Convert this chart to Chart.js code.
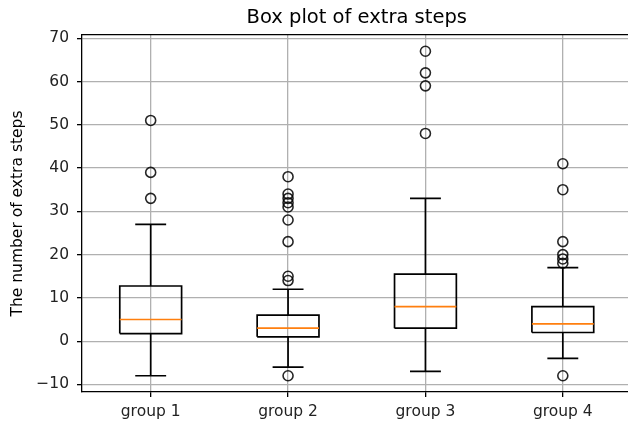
<!DOCTYPE html>
<html>
<head>
<meta charset="utf-8">
<script src="https://cdn.jsdelivr.net/npm/chart.js@4/dist/chart.umd.min.js"></script>
<style>
  html, body { margin: 0; padding: 0; background: #fff; overflow: hidden; }
  #wrap { position: relative; width: 640px; height: 425px; }
</style>
</head>
<body>
<div id="wrap"><canvas id="c"></canvas></div>
<script>
// Summary statistics for each group of extra steps
const groups = ['group 1', 'group 2', 'group 3', 'group 4'];
const q1 = [1.75, 1, 3, 2];
const medians = [5, 3, 8, 4];
const q3 = [12.75, 6, 15.5, 8];
const whiskerLow = [-8, -6, -7, -4];
const whiskerHigh = [27, 12, 33, 17];
const outliers = [
  [33, 39, 51],
  [-8, 14, 15, 23, 28, 31, 32, 33, 34, 38],
  [48, 59, 62, 67],
  [-8, 18, 19, 20, 23, 35, 41]
];
const yTicks = [-10, 0, 10, 20, 30, 40, 50, 60, 70];

const BOX_HALF = 0.225;   // half of the box width, in category units
const CAP_HALF = 0.1125;  // half of the whisker cap width
const gap = (x) => ({ x: x, y: null });

const boxPts = [], medianPts = [], whiskerPts = [], capPts = [], outlierPts = [];
groups.forEach((g, i) => {
  const x = i + 1;
  boxPts.push(
    { x: x - BOX_HALF, y: q1[i] }, { x: x + BOX_HALF, y: q1[i] },
    { x: x + BOX_HALF, y: q3[i] }, { x: x - BOX_HALF, y: q3[i] },
    { x: x - BOX_HALF, y: q1[i] }, gap(x)
  );
  medianPts.push({ x: x - BOX_HALF, y: medians[i] }, { x: x + BOX_HALF, y: medians[i] }, gap(x));
  whiskerPts.push(
    { x: x, y: q1[i] }, { x: x, y: whiskerLow[i] }, gap(x),
    { x: x, y: q3[i] }, { x: x, y: whiskerHigh[i] }, gap(x)
  );
  capPts.push(
    { x: x - CAP_HALF, y: whiskerLow[i] }, { x: x + CAP_HALF, y: whiskerLow[i] }, gap(x),
    { x: x - CAP_HALF, y: whiskerHigh[i] }, { x: x + CAP_HALF, y: whiskerHigh[i] }, gap(x)
  );
  outliers[i].forEach(v => outlierPts.push({ x: x, y: v }));
});

const FONT = 'DejaVu Sans';
const lineSet = (data, color, order) => ({
  data: data, showLine: true, spanGaps: false, tension: 0,
  borderColor: color, borderWidth: 1.7, pointRadius: 0, pointHoverRadius: 0,
  fill: false, order: order, borderCapStyle: 'butt', borderJoinStyle: 'miter'
});

new Chart(document.getElementById('c'), {
  type: 'scatter',
  data: {
    datasets: [
      lineSet(medianPts, '#ff7f0e', 0),
      lineSet(boxPts, '#000000', 1),
      lineSet(whiskerPts, '#000000', 2),
      lineSet(capPts, '#000000', 3),
      {
        data: outlierPts, showLine: false, pointStyle: 'circle',
        pointRadius: 5, pointHoverRadius: 5, borderWidth: 1.6,
        borderColor: 'rgba(0,0,0,0.85)', backgroundColor: 'rgba(0,0,0,0)', order: 4
      }
    ]
  },
  options: {
    responsive: true,
    maintainAspectRatio: false,
    animation: false,
    events: [],
    layout: { padding: { left: 0, right: 8.5, top: 0, bottom: 0 } },
    plugins: {
      legend: { display: false },
      tooltip: { enabled: false },
      title: {
        display: true,
        text: 'Box plot of extra steps',
        fullSize: false,
        color: '#000',
        font: { family: FONT, size: 19.5, weight: 'normal' },
        padding: { top: 6, bottom: 5.6 }
      }
    },
    scales: {
      x: {
        type: 'linear', position: 'bottom', min: 0.5, max: 4.5,
        afterBuildTicks: (s) => { s.ticks = groups.map((g, i) => ({ value: i + 1 })); },
        afterFit: (s) => { s.height = 33; },
        ticks: {
          callback: (v) => groups[v - 1],
          color: '#222', padding: 6, maxRotation: 0,
          font: { family: FONT, size: 15.5 }
        },
        grid: { color: '#b0b0b0', lineWidth: 1.3, tickColor: '#000', tickWidth: 1.3, tickLength: 5 },
        border: { color: '#000', width: 1.3 }
      },
      x2: {
        type: 'linear', position: 'top', min: 0.5, max: 4.5,
        ticks: { display: false },
        grid: { drawOnChartArea: false, drawTicks: false },
        border: { display: true, color: '#000', width: 1.3 },
        afterFit: (s) => { s.height = 0; }
      },
      y: {
        type: 'linear', min: -11.75, max: 70.75,
        afterBuildTicks: (s) => { s.ticks = yTicks.map(v => ({ value: v })); },
        afterFit: (s) => { s.width = 82; },
        ticks: {
          callback: (v) => (v < 0 ? '\u2212' + Math.abs(v) : String(v)),
          color: '#222', padding: 8, font: { family: FONT, size: 15.5 }
        },
        grid: { color: '#b0b0b0', lineWidth: 1.3, tickColor: '#000', tickWidth: 1.3, tickLength: 5 },
        border: { color: '#000', width: 1.3 },
        title: {
          display: true, text: 'The number of extra steps', color: '#000',
          font: { family: FONT, size: 15.5 }, padding: { top: 8.7, bottom: 0 }
        }
      }
    }
  }
});
</script>
</body>
</html>
